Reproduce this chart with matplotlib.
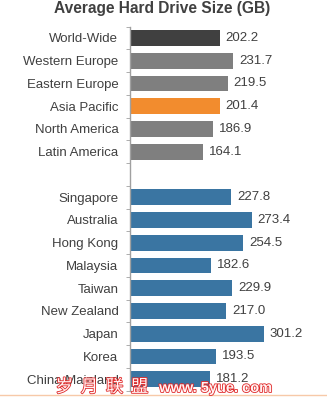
import matplotlib.pyplot as plt
import matplotlib.patheffects as pe

plt.rcParams['font.family'] = ['Liberation Sans', 'DejaVu Sans']

# regional averages
regions = ['World-Wide', 'Western Europe', 'Eastern Europe', 'Asia Pacific',
           'North America', 'Latin America']
region_sizes = [202.2, 231.7, 219.5, 201.4, 186.9, 164.1]
region_colors = ['#404040', '#7f7f7f', '#7f7f7f', '#f28c2e', '#7f7f7f', '#7f7f7f']

# Asia Pacific countries
countries = ['Singapore', 'Australia', 'Hong Kong', 'Malaysia', 'Taiwan',
             'New Zealand', 'Japan', 'Korea', 'China Mainland']
country_sizes = [227.8, 273.4, 254.5, 182.6, 229.9, 217.0, 301.2, 193.5, 181.2]
country_color = '#3a75a2'

text_color = '#404040'

# one empty row between the two groups
labels = regions + [''] + countries
values = region_sizes + [None] + country_sizes
colors = region_colors + [None] + [country_color] * len(countries)

W, H = 327, 398
fig = plt.figure(figsize=(W / 100, H / 100), dpi=100)
row = 22.75
top = 26.6
ax = fig.add_axes([129.5 / W, 1 - (top + 16 * row) / H, 0.447 * 400 / W, 16 * row / H])

for i, (v, c) in enumerate(zip(values, colors)):
    if v is None:
        continue
    ax.barh(i, v, height=0.7, color=c)
    ax.text(v + 13, i, '%.1f' % v, va='center', ha='left', fontsize=9.5, color=text_color)

ax.set_xlim(0, 400)
ax.set_ylim(15.5, -0.5)
ax.set_yticks(range(len(labels)))
ax.set_yticklabels(labels, fontsize=9.5, color=text_color)
ax.set_yticks([i - 0.5 for i in range(len(labels) + 1)], minor=True)
ax.tick_params(axis='y', which='major', length=0, pad=8)
ax.tick_params(axis='y', which='minor', length=3, color='#a0a0a0', direction='out')
ax.set_xticks([])
for s in ['top', 'right', 'bottom']:
    ax.spines[s].set_visible(False)
ax.spines['left'].set_color('#a0a0a0')
ax.spines['left'].set_linewidth(1)

fig.text(162 / W, 1 - 9 / H, 'Average Hard Drive Size (GB)', ha='center', va='center',
         fontsize=11.2, fontweight='bold', color=text_color)

# site watermark along the bottom edge
fig.add_artist(plt.Line2D([0, 1], [1 - 394.5 / H] * 2, color='#f7c9a8', linewidth=1))
stroke = [pe.withStroke(linewidth=1.2, foreground='#e02828')]
fig.text(102 / W, 1 - 387 / H, '岁  月  联  盟', ha='center', va='center', fontsize=12.5,
         color='#fff4f4', family=['Noto Sans CJK SC', 'DejaVu Sans'], path_effects=stroke)
fig.text(216 / W, 1 - 388 / H, 'www. 5yue. com', ha='center', va='center', fontsize=10.5,
         fontweight='bold', color='#fff4f4', path_effects=stroke)

fig.savefig('out.png', dpi=100)
